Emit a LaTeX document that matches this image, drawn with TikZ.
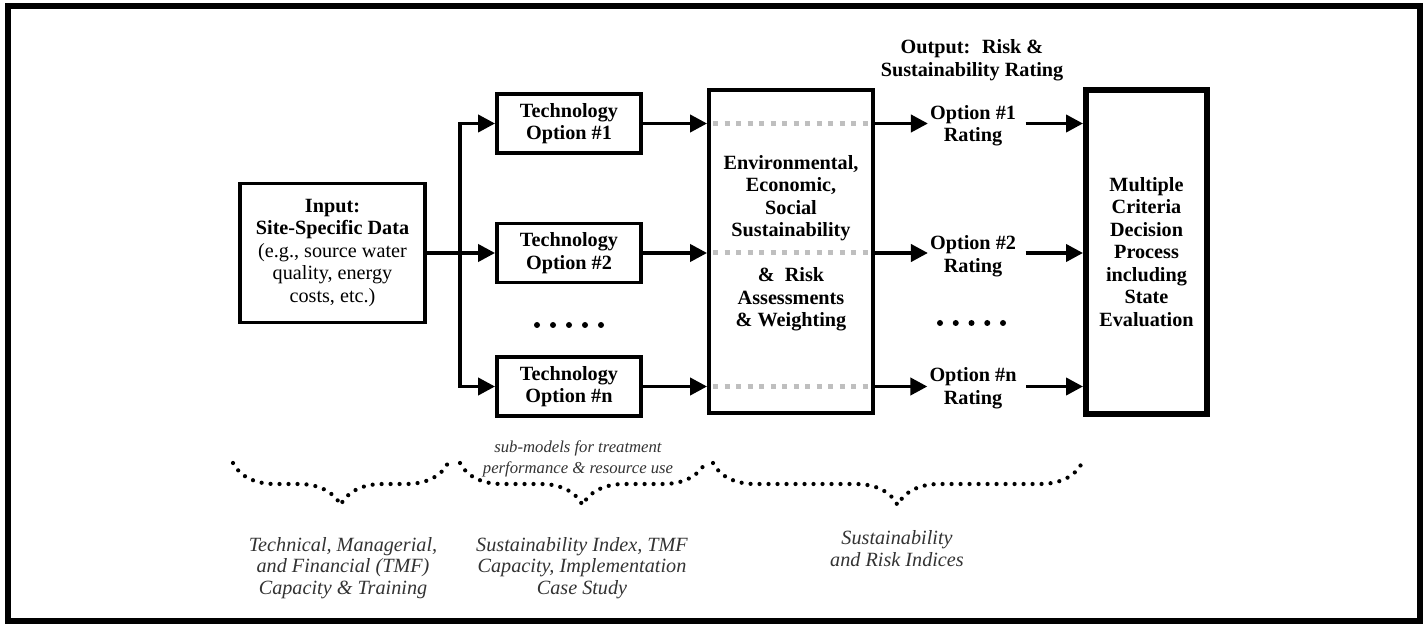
\documentclass[tikz,border=0pt]{standalone}
\usepackage{fontspec}
\setmainfont{Liberation Serif}
\usetikzlibrary{arrows.meta, decorations.pathreplacing}

\begin{document}
\begin{tikzpicture}[x=0.02cm, y=-0.02cm,
    box/.style = {draw, line width=2.2pt, align=center, inner sep=0pt,
        font=\bfseries\fontsize{11.5}{12.8}\selectfont},
    lbl/.style = {align=center, inner sep=1pt,
        font=\bfseries\fontsize{11.5}{12.8}\selectfont},
    note/.style = {align=center, text=black!80,
        font=\itshape\fontsize{11.5}{12.2}\selectfont},
    arr/.style = {line width=2.2pt, -{Triangle[length=0.34cm, width=0.34cm]}},
    graydots/.style = {line width=0.1cm, gray!50, dash pattern=on 0.1cm off 0.13cm},
    brc/.style = {decorate, decoration={brace, mirror, amplitude=0.84cm},
        line width=2.4pt, line cap=round, dash pattern=on 0pt off 0.18cm}
]
    \useasboundingbox (0, 0) rectangle (1425, 624);
    \draw[line width=0.11cm] (8, 6) rectangle (1420, 621);

    \node[box, minimum width=3.7cm, minimum height=2.78cm] (input) at (332.5, 253)
        {Input:\\Site-Specific Data\\\mdseries (e.g., source water\\\mdseries quality, energy\\\mdseries costs, etc.)};
    \node[box, minimum width=2.88cm, minimum height=1.18cm] (tech1) at (569, 123.5) {Technology\\Option \#1};
    \node[box, minimum width=2.88cm, minimum height=1.18cm] (tech2) at (569, 253) {Technology\\Option \#2};
    \node[box, minimum width=2.88cm, minimum height=1.18cm] (techn) at (569, 386.5) {Technology\\Option \#n};

    \node[box, minimum width=3.28cm, minimum height=6.46cm] (mid) at (791, 251.5) {};
    \node[lbl] (midtext) at (791, 243)
        {Environmental,\\Economic,\\Social\\Sustainability\\[12.8pt]\&~ Risk\\Assessments\\\& Weighting};

    \node[box, line width=3.4pt, minimum width=2.42cm, minimum height=6.48cm] (final) at (1146.5, 252)
        {Multiple\\Criteria\\Decision\\Process\\including\\State\\Evaluation};

    \node[lbl] (output) at (972, 60) {Output:~ Risk \&\\Sustainability Rating};
    \node[lbl] (opt1) at (973, 125.5) {Option \#1\\Rating};
    \node[lbl] (opt2) at (973, 256) {Option \#2\\Rating};
    \node[lbl] (optn) at (973, 388) {Option \#n\\Rating};

    \coordinate (split) at (460, 253);
    \draw[arr] (input.east) -- (tech2.west);
    \draw[arr] (split) |- (tech1.west);
    \draw[arr] (split) |- (techn.west);

    \foreach \t/\o in {tech1/opt1, tech2/opt2, techn/optn} {
        \draw[arr] (\t.east) -- (\t.east -| mid.west);
        \draw[graydots, shorten <=0.12cm, shorten >=0.12cm] (\t.east -| mid.west) -- (\t.east -| mid.east);
        \draw[arr] (\t.east -| mid.east) -- (\t.east -| \o.west);
        \draw[arr, shorten <=0.15cm] (\t.east -| \o.east) -- (\t.east -| final.west);
    }

    \foreach \i in {0,...,4} {
        \fill (537 + \i*16, 325) circle (0.06cm);
        \fill (940 + \i*15.75, 323) circle (0.06cm);
    }

    \draw[brc] (233, 463) -- (448, 463);
    \draw[brc] (460, 463) -- (705, 463);
    \draw[brc] (713, 463) -- (1082, 463);

    \node[note, font=\itshape\fontsize{9.5}{11.5}\selectfont] (submodels) at (578, 459)
        {sub-models for treatment\\performance \& resource use};
    \node[note] (tmf) at (343, 568) {Technical, Managerial,\\and Financial (TMF)\\Capacity \& Training};
    \node[note] (index) at (582, 568) {Sustainability Index, TMF\\Capacity, Implementation\\Case Study};
    \node[note] (indices) at (897, 548.5) {Sustainability\\and Risk Indices};
\end{tikzpicture}
\end{document}
